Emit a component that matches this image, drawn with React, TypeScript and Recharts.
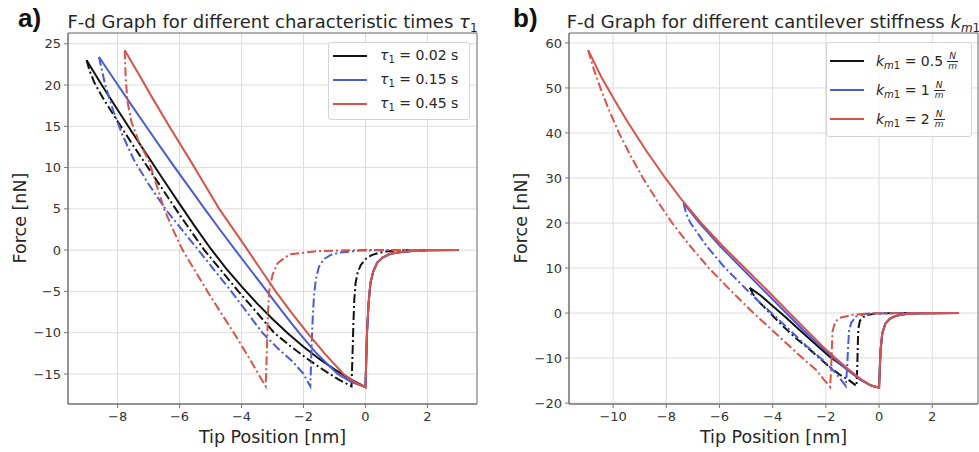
import { LineChart, Line, XAxis, YAxis, CartesianGrid, ReferenceArea } from "recharts";

type Pt = { x: number; y: number };

const FONT = "'DejaVu Sans', sans-serif";
const BLACK = "#111111";
const BLUE = "#4a5bd4";
const RED = "#d9534a";
const DASHDOT = "9 3 2 3";

// ---- panel a: characteristic times tau1 ----
const aXTicks = [-8, -6, -4, -2, 0, 2];
const aYTicks = [-15, -10, -5, 0, 5, 10, 15, 20, 25];

const aPreContact: Pt[] = [
  { x: 3, y: 0 }, { x: 2, y: -0.03 }, { x: 1.5, y: -0.1 }, { x: 1.1, y: -0.25 },
  { x: 0.8, y: -0.45 }, { x: 0.55, y: -0.9 }, { x: 0.38, y: -1.5 }, { x: 0.25, y: -2.6 },
  { x: 0.16, y: -4 }, { x: 0.1, y: -6.5 }, { x: 0.05, y: -10 }, { x: 0.02, y: -14 }, { x: 0, y: -16.6 },
];

const aBlackApproach: Pt[] = [
  { x: -0.5, y: -15.6 }, { x: -1, y: -14.45 }, { x: -1.5, y: -13.15 }, { x: -2, y: -11.7 },
  { x: -2.5, y: -10.1 }, { x: -3, y: -8.35 }, { x: -3.5, y: -6.45 }, { x: -4, y: -4.4 },
  { x: -4.5, y: -2.2 }, { x: -5, y: 0.2 }, { x: -5.5, y: 2.85 }, { x: -6, y: 5.6 },
  { x: -6.5, y: 8.4 }, { x: -7, y: 11.25 }, { x: -7.5, y: 14.1 }, { x: -8, y: 17 },
  { x: -8.5, y: 19.95 }, { x: -9, y: 23 },
];
const aBlackRetract: Pt[] = [
  { x: -9, y: 23 }, { x: -8.9, y: 21.7 }, { x: -8.75, y: 20.3 }, { x: -8.5, y: 18.6 },
  { x: -8, y: 15.6 }, { x: -7.5, y: 12.7 }, { x: -7, y: 9.9 }, { x: -6.5, y: 7.1 },
  { x: -6, y: 4.3 }, { x: -5.5, y: 1.6 }, { x: -5.2, y: 0 }, { x: -4.65, y: -2.5 },
  { x: -4.1, y: -5 }, { x: -3.52, y: -7.5 }, { x: -2.95, y: -10 }, { x: -2.4, y: -11.7 },
  { x: -1.9, y: -13.1 }, { x: -1.4, y: -14.4 }, { x: -0.9, y: -15.6 }, { x: -0.45, y: -16.5 },
  { x: -0.42, y: -13 }, { x: -0.39, y: -9 }, { x: -0.36, y: -6 }, { x: -0.32, y: -4 },
  { x: -0.25, y: -2.7 }, { x: -0.15, y: -1.8 }, { x: 0, y: -1.1 }, { x: 0.2, y: -0.6 },
  { x: 0.45, y: -0.3 }, { x: 0.8, y: -0.12 }, { x: 1.2, y: -0.03 }, { x: 2, y: 0 }, { x: 3, y: 0 },
];

const aBlueApproach: Pt[] = [
  { x: -0.45, y: -16 }, { x: -0.9, y: -15 }, { x: -1.58, y: -12.5 }, { x: -2.15, y: -10 },
  { x: -2.67, y: -7.5 }, { x: -3.18, y: -5 }, { x: -3.69, y: -2.5 }, { x: -4.2, y: 0 },
  { x: -4.7, y: 2.5 }, { x: -5.19, y: 5 }, { x: -5.67, y: 7.5 }, { x: -6.15, y: 10 },
  { x: -6.62, y: 12.5 }, { x: -7.08, y: 15 }, { x: -7.54, y: 17.5 }, { x: -7.99, y: 20 },
  { x: -8.6, y: 23.4 },
];
const aBlueRetract: Pt[] = [
  { x: -8.6, y: 23.4 }, { x: -8.4, y: 20 }, { x: -8.15, y: 17 }, { x: -7.85, y: 14 },
  { x: -7.47, y: 10.9 }, { x: -7, y: 8 }, { x: -6.46, y: 5 }, { x: -5.93, y: 2.5 },
  { x: -5.39, y: 0 }, { x: -4.86, y: -2.5 }, { x: -4.33, y: -5 }, { x: -3.83, y: -7.5 },
  { x: -3.33, y: -10 }, { x: -2.8, y: -12 }, { x: -2.35, y: -13.5 }, { x: -2, y: -15 },
  { x: -1.78, y: -16.5 }, { x: -1.74, y: -12 }, { x: -1.7, y: -8 }, { x: -1.66, y: -5.5 },
  { x: -1.6, y: -3.5 }, { x: -1.5, y: -2 }, { x: -1.35, y: -1.1 }, { x: -1.1, y: -0.55 },
  { x: -0.82, y: -0.3 }, { x: -0.18, y: -0.05 }, { x: 0.9, y: 0 }, { x: 3, y: 0 },
];

const aRedApproach: Pt[] = [
  { x: -0.3, y: -16.1 }, { x: -0.71, y: -15 }, { x: -1.3, y: -12.6 }, { x: -1.88, y: -10 },
  { x: -2.4, y: -7.5 }, { x: -2.9, y: -5 }, { x: -3.35, y: -2.5 }, { x: -3.8, y: 0 },
  { x: -4.25, y: 2.45 }, { x: -4.72, y: 5 }, { x: -5.2, y: 8 }, { x: -5.66, y: 10.9 },
  { x: -6.25, y: 14.5 }, { x: -6.84, y: 18.2 }, { x: -7.3, y: 21.2 }, { x: -7.77, y: 24.2 },
];
const aRedRetract: Pt[] = [
  { x: -7.77, y: 24.2 }, { x: -7.74, y: 21 }, { x: -7.68, y: 18 }, { x: -7.55, y: 15.5 },
  { x: -7.3, y: 13 }, { x: -7, y: 10.9 }, { x: -6.75, y: 8 }, { x: -6.5, y: 5 },
  { x: -6.2, y: 2.4 }, { x: -5.9, y: 0 }, { x: -5.5, y: -2.5 }, { x: -5.1, y: -5 },
  { x: -4.68, y: -7.5 }, { x: -4.25, y: -10 }, { x: -3.75, y: -13.1 }, { x: -3.22, y: -16.5 },
  { x: -3.18, y: -12 }, { x: -3.15, y: -8 }, { x: -3.11, y: -5 }, { x: -3, y: -3 },
  { x: -2.84, y: -1.6 }, { x: -2.6, y: -0.9 }, { x: -2.41, y: -0.5 }, { x: -1.56, y: -0.12 },
  { x: -0.18, y: 0 }, { x: 3, y: 0 },
];

// ---- panel b: cantilever stiffness k_m1 ----
const bXTicks = [-10, -8, -6, -4, -2, 0, 2];
const bYTicks = [-20, -10, 0, 10, 20, 30, 40, 50, 60];

const bPreContact: Pt[] = [
  { x: 3, y: 0 }, { x: 2, y: -0.02 }, { x: 1.6, y: -0.05 }, { x: 1.1, y: -0.15 },
  { x: 0.8, y: -0.4 }, { x: 0.6, y: -0.7 }, { x: 0.4, y: -1.3 }, { x: 0.24, y: -2.3 },
  { x: 0.12, y: -4.5 }, { x: 0.06, y: -8 }, { x: 0.03, y: -12 }, { x: 0, y: -16.6 },
];

const bBlackApproach: Pt[] = [
  { x: -0.3, y: -16.1 }, { x: -0.7, y: -14.8 }, { x: -1.13, y: -12.8 }, { x: -1.5, y: -11.2 },
  { x: -1.88, y: -9.6 }, { x: -2.45, y: -6.6 }, { x: -3, y: -3.7 }, { x: -3.5, y: -1 },
  { x: -3.99, y: 1.5 }, { x: -4.45, y: 3.9 }, { x: -4.86, y: 5.6 },
];
const bBlackRetract: Pt[] = [
  { x: -4.86, y: 5.6 }, { x: -4.75, y: 4.3 }, { x: -4.6, y: 3 }, { x: -4.1, y: 0 },
  { x: -3.6, y: -3 }, { x: -3.2, y: -5.2 }, { x: -2.75, y: -7.4 }, { x: -2.3, y: -9.7 },
  { x: -1.88, y: -11.9 }, { x: -1.5, y: -13.6 }, { x: -1.13, y: -14.9 }, { x: -0.85, y: -16.2 },
  { x: -0.82, y: -12 }, { x: -0.8, y: -7 }, { x: -0.78, y: -3.5 }, { x: -0.72, y: -1.7 },
  { x: -0.6, y: -0.9 }, { x: -0.4, y: -0.4 }, { x: -0.14, y: -0.1 }, { x: 0.8, y: 0 }, { x: 3, y: 0 },
];

const bBlueApproach: Pt[] = [
  { x: -0.3, y: -16.1 }, { x: -0.7, y: -14.8 }, { x: -1.13, y: -12.9 }, { x: -1.6, y: -10.6 },
  { x: -2.2, y: -7.4 }, { x: -2.85, y: -3.8 }, { x: -3.49, y: 0 }, { x: -4.33, y: 5 },
  { x: -5.17, y: 10 }, { x: -6, y: 15 }, { x: -6.8, y: 20.3 }, { x: -7.35, y: 24.4 },
];
const bBlueRetract: Pt[] = [
  { x: -7.35, y: 24.4 }, { x: -7.25, y: 22 }, { x: -7.09, y: 20 }, { x: -6.5, y: 15 },
  { x: -5.85, y: 10.4 }, { x: -5.2, y: 6.5 }, { x: -4.6, y: 3 }, { x: -3.95, y: -0.5 },
  { x: -3.37, y: -3.7 }, { x: -2.75, y: -7.2 }, { x: -2.12, y: -10.4 }, { x: -1.65, y: -13.2 },
  { x: -1.25, y: -16.2 }, { x: -1.2, y: -12 }, { x: -1.16, y: -7 }, { x: -1.13, y: -4 },
  { x: -1.05, y: -2.2 }, { x: -0.88, y: -0.8 }, { x: -0.5, y: -0.15 }, { x: 0.4, y: 0 }, { x: 3, y: 0 },
];

const bRedApproach: Pt[] = [
  { x: -0.3, y: -16.1 }, { x: -0.7, y: -14.6 }, { x: -1.13, y: -12.6 }, { x: -1.6, y: -10.2 },
  { x: -2.12, y: -7.4 }, { x: -2.7, y: -4 }, { x: -3.37, y: 0 }, { x: -4.2, y: 5 },
  { x: -5.05, y: 10 }, { x: -5.9, y: 15 }, { x: -6.69, y: 20 }, { x: -7.4, y: 25 },
  { x: -8.04, y: 30 }, { x: -8.75, y: 36 }, { x: -9.46, y: 42.5 }, { x: -9.95, y: 47.3 },
  { x: -10.45, y: 52.5 }, { x: -10.94, y: 58.4 },
];
const bRedRetract: Pt[] = [
  { x: -10.94, y: 58.4 }, { x: -10.72, y: 54 }, { x: -10.48, y: 50 }, { x: -10.15, y: 45 },
  { x: -9.78, y: 40 }, { x: -9.35, y: 35 }, { x: -8.88, y: 30 }, { x: -8.35, y: 25 },
  { x: -7.78, y: 20 }, { x: -7.12, y: 15 }, { x: -6.4, y: 10 }, { x: -5.58, y: 5 },
  { x: -4.72, y: 0 }, { x: -3.8, y: -5 }, { x: -2.88, y: -10 }, { x: -2.37, y: -12.6 },
  { x: -2.1, y: -14.6 }, { x: -1.84, y: -16.4 }, { x: -1.8, y: -12 }, { x: -1.77, y: -7 },
  { x: -1.75, y: -4 }, { x: -1.65, y: -2 }, { x: -1.5, y: -1.1 }, { x: -1, y: -0.4 },
  { x: -0.26, y: -0.05 }, { x: 3, y: 0 },
];

type Series = { data: Pt[]; color: string; dashed: boolean };

const aSeries: Series[] = [
  { data: [...aPreContact, ...aBlackApproach], color: BLACK, dashed: false },
  { data: aBlackRetract, color: BLACK, dashed: true },
  { data: [...aPreContact, ...aBlueApproach], color: BLUE, dashed: false },
  { data: aBlueRetract, color: BLUE, dashed: true },
  { data: [...aPreContact, ...aRedApproach], color: RED, dashed: false },
  { data: aRedRetract, color: RED, dashed: true },
];

const bSeries: Series[] = [
  { data: [...bPreContact, ...bBlackApproach], color: BLACK, dashed: false },
  { data: bBlackRetract, color: BLACK, dashed: true },
  { data: [...bPreContact, ...bBlueApproach], color: BLUE, dashed: false },
  { data: bBlueRetract, color: BLUE, dashed: true },
  { data: [...bPreContact, ...bRedApproach], color: RED, dashed: false },
  { data: bRedRetract, color: RED, dashed: true },
];

const fmt = (v: number) => String(v).replace("-", "\u2212");

type PanelProps = {
  left: number;
  width: number;
  yAxisWidth: number;
  rightMargin: number;
  xDomain: [number, number];
  yDomain: [number, number];
  xTicks: number[];
  yTicks: number[];
  series: Series[];
};

const Panel = ({ left, width, yAxisWidth, rightMargin, xDomain, yDomain, xTicks, yTicks, series }: PanelProps) => {
  const tickStyle = { fill: "#333", fontSize: 13, fontFamily: FONT };
  return (
    <div style={{ position: "absolute", left, top: 0 }}>
      <LineChart width={width} height={452} margin={{ top: 33, right: rightMargin, bottom: 0, left: 0 }}>
        <CartesianGrid stroke="#dcdcdc" strokeWidth={1} />
        <XAxis
          type="number"
          dataKey="x"
          domain={xDomain}
          ticks={xTicks}
          allowDataOverflow
          tickFormatter={fmt}
          tick={tickStyle}
          tickSize={4}
          tickMargin={4}
          axisLine={{ stroke: "#777" }}
          tickLine={{ stroke: "#777" }}
          height={48}
        />
        <YAxis
          type="number"
          domain={yDomain}
          ticks={yTicks}
          allowDataOverflow
          tickFormatter={fmt}
          tick={tickStyle}
          tickSize={4}
          tickMargin={3}
          axisLine={{ stroke: "#777" }}
          tickLine={{ stroke: "#777" }}
          width={yAxisWidth}
        />
        {series.map((s, i) => (
          <Line
            key={i}
            data={s.data}
            dataKey="y"
            type="linear"
            stroke={s.color}
            strokeWidth={2}
            strokeDasharray={s.dashed ? DASHDOT : undefined}
            dot={false}
            activeDot={false}
            isAnimationActive={false}
          />
        ))}
        <ReferenceArea
          x1={xDomain[0]}
          x2={xDomain[1]}
          y1={yDomain[0]}
          y2={yDomain[1]}
          fill="none"
          stroke="#777"
          strokeWidth={1}
          ifOverflow="visible"
        />
      </LineChart>
    </div>
  );
};

const sampleLine = (color: string) => (
  <svg width={34} height={4} style={{ display: "block" }}>
    <line x1={0} x2={34} y1={2} y2={2} stroke={color} strokeWidth={2} />
  </svg>
);

const legendBox = {
  position: "absolute" as const,
  background: "rgba(255,255,255,0.85)",
  border: "1px solid #d4d4d4",
  borderRadius: 3,
  fontFamily: FONT,
  fontSize: 14,
  color: "#262626",
};

const tauLabels = ["0.02", "0.15", "0.45"];
const kLabels = ["0.5", "1", "2"];
const colors = [BLACK, BLUE, RED];

const TauLegend = () => (
  <div style={{ ...legendBox, left: 328, top: 42, width: 140, height: 76 }}>
    {tauLabels.map((t, i) => (
      <div
        key={t}
        style={{ position: "absolute", left: 4, top: 13 + i * 24 - 10, height: 20, display: "flex", alignItems: "center" }}
      >
        {sampleLine(colors[i])}
        <span style={{ marginLeft: 13, whiteSpace: "nowrap" }}>
          <i>τ</i>
          <span style={{ fontSize: 10, verticalAlign: "-3px" }}>1</span>
          {" = " + t + " s"}
        </span>
      </div>
    ))}
  </div>
);

const Frac = () => (
  <span
    style={{
      display: "inline-flex",
      flexDirection: "column",
      alignItems: "center",
      fontSize: 9,
      fontStyle: "italic",
      lineHeight: "9px",
      verticalAlign: "middle",
      marginLeft: 4,
    }}
  >
    <span>N</span>
    <span style={{ borderTop: "1px solid #262626", padding: "0 1px" }}>m</span>
  </span>
);

const KLegend = () => (
  <div style={{ ...legendBox, left: 826, top: 42, width: 144, height: 93 }}>
    {kLabels.map((k, i) => (
      <div
        key={k}
        style={{ position: "absolute", left: 3, top: 18 + i * 29 - 11, height: 22, display: "flex", alignItems: "center" }}
      >
        {sampleLine(colors[i])}
        <span style={{ marginLeft: 12, whiteSpace: "nowrap" }}>
          <i>k</i>
          <span style={{ fontSize: 10, verticalAlign: "-3px" }}>
            <i>m</i>1
          </span>
          {" = " + k}
          <Frac />
        </span>
      </div>
    ))}
  </div>
);

const Overlay = () => (
  <svg width={979} height={452} style={{ position: "absolute", left: 0, top: 0, pointerEvents: "none" }}>
    <g fontFamily="'Liberation Sans', Arial, sans-serif" fontWeight="bold" fontSize={26} fill="#111">
      <text x={18} y={27}>a)</text>
      <text x={513} y={27}>b)</text>
    </g>
    <g fontFamily={FONT} fill="#262626">
      <text x={272.5} y={28} fontSize={18} textAnchor="middle">
        F-d Graph for different characteristic times <tspan fontStyle="italic">τ</tspan>
        <tspan fontSize={12} dy={4}>1</tspan>
      </text>
      <text x={773.5} y={28} fontSize={18} textAnchor="middle">
        F-d Graph for different cantilever stiffness <tspan fontStyle="italic">k</tspan>
        <tspan fontSize={12} dy={4} fontStyle="italic">m</tspan>
        <tspan fontSize={12}>1</tspan>
      </text>
      <text x={272.5} y={443} fontSize={17.5} textAnchor="middle">Tip Position [nm]</text>
      <text x={773.5} y={443} fontSize={17.5} textAnchor="middle">Tip Position [nm]</text>
      <text x={26} y={218} fontSize={17.5} textAnchor="middle" transform="rotate(-90 26 218)">Force [nN]</text>
      <text x={527} y={218} fontSize={17.5} textAnchor="middle" transform="rotate(-90 527 218)">Force [nN]</text>
    </g>
  </svg>
);

const App = () => (
  <div style={{ position: "absolute", left: 0, top: 0, width: 979, height: 452, background: "#fff", overflow: "hidden" }}>
    <Panel
      left={0}
      width={490}
      yAxisWidth={68}
      rightMargin={13}
      xDomain={[-9.6, 3.6]}
      yDomain={[-18.64, 26.3]}
      xTicks={aXTicks}
      yTicks={aYTicks}
      series={aSeries}
    />
    <Panel
      left={490}
      width={489}
      yAxisWidth={79}
      rightMargin={1}
      xDomain={[-11.66, 3.72]}
      yDomain={[-20.2, 62.2]}
      xTicks={bXTicks}
      yTicks={bYTicks}
      series={bSeries}
    />
    <Overlay />
    <TauLegend />
    <KLegend />
  </div>
);

export default App;
